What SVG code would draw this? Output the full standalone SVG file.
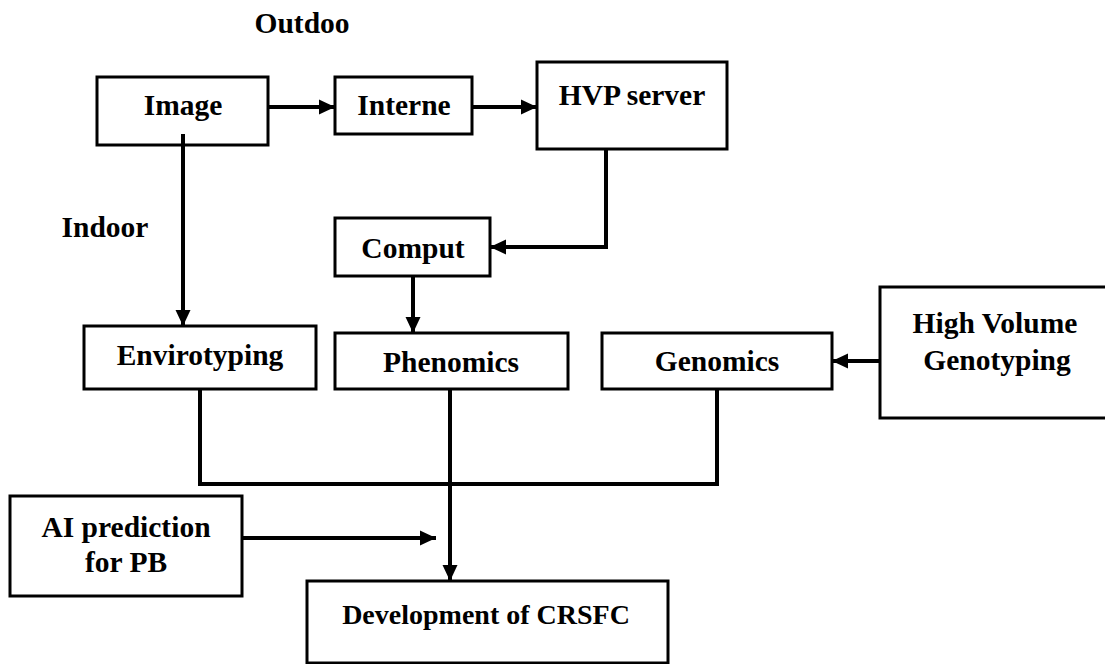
<svg xmlns="http://www.w3.org/2000/svg" width="1105" height="664" viewBox="0 0 1105 664">
<style>
.box{fill:#fff;stroke:#000;stroke-width:3}
.t{font-family:"Liberation Serif","Times New Roman",serif;font-weight:bold;font-size:29.5px;fill:#000;text-anchor:middle}
.s{font-size:28px}
.c{fill:none;stroke:#000;stroke-width:4}
.a{marker-end:url(#ah)}
</style>
<defs>
<marker id="ah" markerUnits="userSpaceOnUse" markerWidth="16" markerHeight="16" refX="16" refY="8" orient="auto">
<path d="M0,0.5 L16,8 L0,15.5 z" fill="#000"/>
</marker>
</defs>
<rect width="1105" height="664" fill="#fff"/>
<g id="labels">
<text class="t" x="302" y="33">Outdoo</text>
<text class="t" x="105" y="237">Indoor</text>
</g>
<g id="node-image"><rect class="box" x="97" y="77" width="171" height="68"/><text class="t" x="183" y="115">Image</text></g>
<g id="node-interne"><rect class="box" x="335" y="77" width="137" height="57"/><text class="t" x="404" y="115">Interne</text></g>
<g id="node-hvp"><rect class="box" x="537" y="62" width="190" height="87"/><text class="t" x="632" y="105">HVP server</text></g>
<g id="node-comput"><rect class="box" x="335" y="218" width="155" height="58"/><text class="t" x="413" y="258">Comput</text></g>
<g id="node-envirotyping"><rect class="box" x="84" y="326" width="232" height="63"/><text class="t" x="200" y="365">Envirotyping</text></g>
<g id="node-phenomics"><rect class="box" x="335" y="333" width="233" height="56"/><text class="t" x="451" y="372">Phenomics</text></g>
<g id="node-genomics"><rect class="box" x="602" y="333" width="230" height="56"/><text class="t" x="717" y="371">Genomics</text></g>
<g id="node-hvg"><rect class="box" x="880" y="287" width="240" height="131"/><text class="t" x="995" y="333">High Volume</text><text class="t" x="997" y="370">Genotyping</text></g>
<g id="node-ai"><rect class="box" x="10" y="496" width="232" height="100"/><text class="t" x="126" y="537">AI prediction</text><text class="t" x="126" y="572">for PB</text></g>
<g id="node-dev"><rect class="box" x="307" y="581" width="361" height="82"/><text class="t s" x="486" y="624">Development of CRSFC</text></g>
<g id="connectors">
<path class="c a" d="M268,107 H335"/>
<path class="c a" d="M472,107 H537"/>
<path class="c a" d="M606,149 V247 H490"/>
<path class="c a" d="M413,276 V333"/>
<path class="c a" d="M183,134 V326"/>
<path class="c a" d="M880,361 H832"/>
<path class="c" d="M200,389 V484 H717 V389"/>
<path class="c a" d="M450,389 V581"/>
<path class="c a" d="M242,538 H436"/>
</g>
</svg>
